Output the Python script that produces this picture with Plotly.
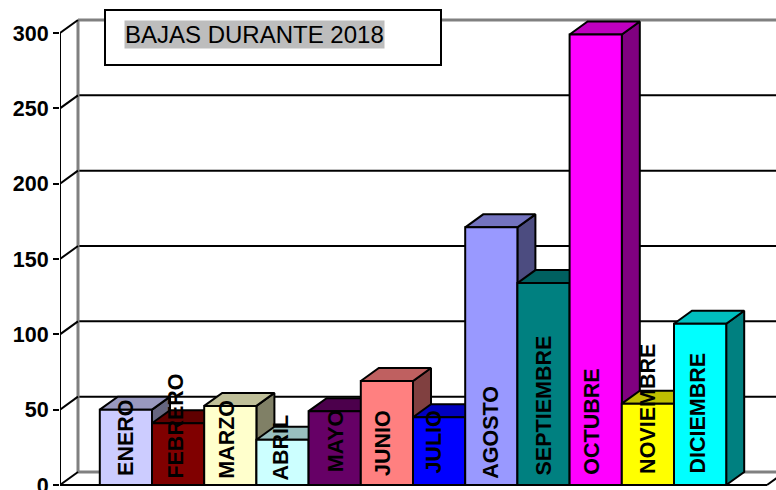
import plotly.graph_objects as go

# ---- data ----
MONTHS = ["ENERO", "FEBRERO", "MARZO", "ABRIL", "MAYO", "JUNIO", "JULIO", "AGOSTO",
          "SEPTIEMBRE", "OCTUBRE", "NOVIEMBRE", "DICIEMBRE"]
BAJAS = [50, 41, 52.5, 30, 49, 69, 45, 171, 134, 299, 54, 107]
Y_TICKS = [0, 50, 100, 150, 200, 250, 300]
TITLE = "BAJAS DURANTE 2018"

# ---- styles ----
COLORS = [(204, 204, 255), (128, 0, 0), (255, 255, 204), (204, 255, 255), (102, 0, 102), (255, 128, 128),
          (0, 0, 255), (153, 153, 255), (0, 128, 128), (255, 0, 255), (255, 255, 0), (0, 255, 255)]
LABEL_BOTTOM_PX = [477, 480, 480, 482, 473, 477, 475, 480, 477, 476, 475, 475]
LABEL_SHIFT_PX = [0, -3, -4, -2, 1, -4, -6, -1, 0, -4, 0, -3]
FONT = "Liberation Sans, Arial, sans-serif"
W, H = 776, 490
ML = 60
BASE_PX, TOP_PX = 485, 33
PX_PER_UNIT = (BASE_PX - TOP_PX) / 300
BAR_PX = 52.2
FIRST_CENTER_PX = 125.9


def dx_of(px):
    return (px - FIRST_CENTER_PX) / BAR_PX


def dy_of(py):
    return (BASE_PX - py) / PX_PER_UNIT


X_L, X_R = dx_of(ML), dx_of(W)
Y_B, Y_T = dy_of(H), dy_of(0)
DX, DY = 18 / BAR_PX, 13 / PX_PER_UNIT


def shade(c, f):
    return "rgb(%d,%d,%d)" % tuple(round(v * f) for v in c)


def line(xs, ys, color, width):
    return go.Scatter(x=xs, y=ys, mode="lines", line=dict(color=color, width=width),
                      cliponaxis=False, hoverinfo="skip", showlegend=False)


fig = go.Figure()

# back wall grid + left wall + floor
for t in Y_TICKS[1:]:
    if t == 300:
        fig.add_trace(line([X_L + DX, X_R], [t + DY, t + DY], "#808080", 3))
    else:
        fig.add_trace(line([X_L + DX, X_R], [t + DY, t + DY], "black", 2))
fig.add_trace(line([X_L + DX, X_L + DX], [DY, 300 + DY], "#808080", 3))
fig.add_trace(line([X_L + DX, X_R], [DY, DY], "#808080", 3))
for t in Y_TICKS:
    fig.add_trace(line([X_L, X_L + DX], [t, t + DY], "black", 2))
fig.add_trace(line([X_L, X_L], [0, 300], "black", 2))
fig.add_trace(line([X_L, dx_of(767)], [0, 0], "black", 2))
fig.add_trace(line([dx_of(767), dx_of(767) + DX], [0, DY], "black", 2))

# side and top faces of the bars
for i, (v, c) in enumerate(zip(BAJAS, COLORS)):
    fig.add_trace(go.Scatter(x=[i + .5, i + .5 + DX, i + .5 + DX, i + .5, i + .5],
                             y=[0, DY, v + DY, v, 0], fill="toself", mode="lines",
                             fillcolor=shade(c, .5), line=dict(color="black", width=2),
                             cliponaxis=False, hoverinfo="skip", showlegend=False))
    fig.add_trace(go.Scatter(x=[i - .5, i - .5 + DX, i + .5 + DX, i + .5, i - .5],
                             y=[v, v + DY, v + DY, v, v], fill="toself", mode="lines",
                             fillcolor=shade(c, .75), line=dict(color="black", width=2),
                             cliponaxis=False, hoverinfo="skip", showlegend=False))

# front faces, on an overlaying pair of axes so they hide the neighbours' side faces
fig.add_trace(go.Bar(x=list(range(len(MONTHS))), y=BAJAS, width=1, xaxis="x2", yaxis="y2",
                     customdata=MONTHS, hovertemplate="%{customdata}: %{y}<extra></extra>",
                     marker=dict(color=[shade(c, 1) for c in COLORS], line=dict(color="black", width=2)),
                     showlegend=False))

annotations = [
    dict(x=i + s / BAR_PX, y=dy_of(b), xref="x", yref="y", text="<b>%s</b>" % m, textangle=-90,
         showarrow=False, xanchor="center", yanchor="bottom", borderpad=0,
         font=dict(family=FONT, size=21.5, color="black"))
    for i, (m, b, s) in enumerate(zip(MONTHS, LABEL_BOTTOM_PX, LABEL_SHIFT_PX))
]
annotations.append(dict(x=(124 - ML) / (W - ML), y=1 - 19.5 / H, xref="paper", yref="paper", text=TITLE, showarrow=False,
                        xanchor="left", yanchor="top", bgcolor="#bdbdbd", borderpad=0,
                        font=dict(family=FONT, size=24, color="black")))

fig.update_layout(
    width=W, height=H, margin=dict(l=ML, r=0, t=0, b=0, autoexpand=False), autosize=False,
    paper_bgcolor="white", plot_bgcolor="white", showlegend=False, barmode="overlay",
    xaxis=dict(range=[X_L, X_R], visible=False, fixedrange=True, automargin=False),
    xaxis2=dict(range=[X_L, X_R], visible=False, overlaying="x", fixedrange=True, automargin=False),
    yaxis=dict(range=[Y_B, Y_T], tickmode="array", tickvals=Y_TICKS, showgrid=False, zeroline=False,
               showline=False, ticks="outside", ticklen=6, tickwidth=2, tickcolor="black",
               ticklabeloverflow="allow", automargin=False,
               tickfont=dict(family=FONT, size=21.5, color="black", weight="bold"), fixedrange=True),
    yaxis2=dict(range=[Y_B, Y_T], visible=False, overlaying="y", fixedrange=True, automargin=False),
    shapes=[dict(type="rect", xref="paper", yref="paper", x0=(105 - ML) / (W - ML), x1=(441 - ML) / (W - ML),
                 y0=1 - 65 / H, y1=1 - 10 / H, fillcolor="white", line=dict(color="black", width=2), layer="above")],
    annotations=annotations,
)

fig.write_html("out.html", config=dict(displayModeBar=False),
               post_script="document.body.style.margin='0';document.documentElement.style.overflow='hidden';")
